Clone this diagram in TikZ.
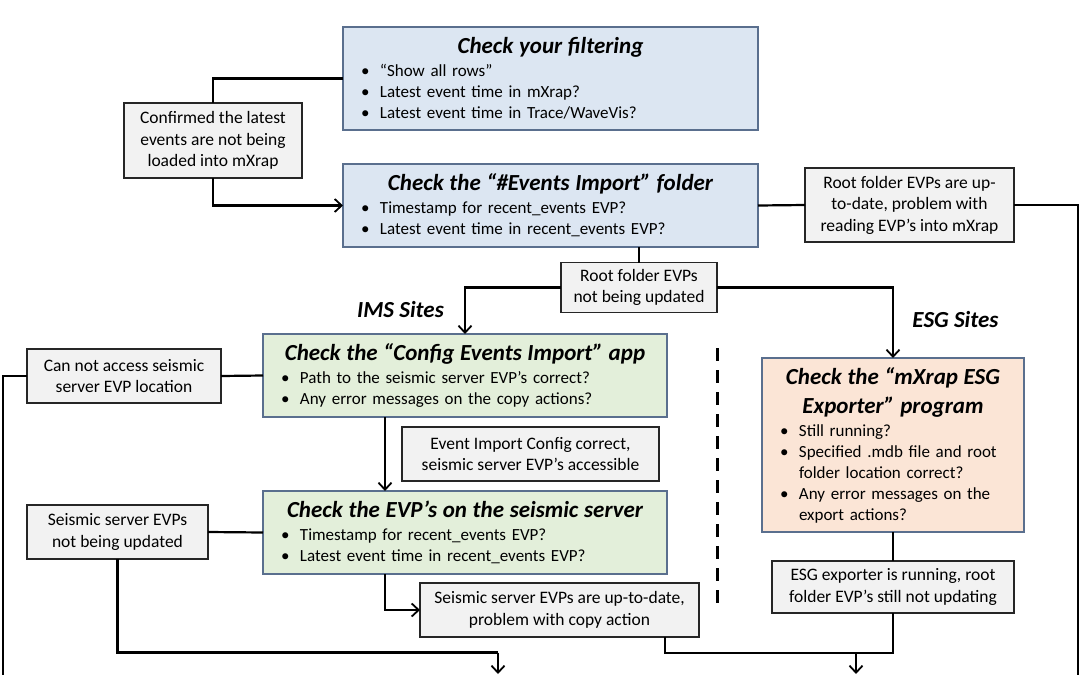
\documentclass[tikz,border=0pt]{standalone}
\usepackage{fontspec}
\setmainfont{Carlito}
\usetikzlibrary{arrows.meta,calc}
\definecolor{bluefill}{HTML}{DCE6F2}
\definecolor{greenfill}{HTML}{E3EFDA}
\definecolor{orangefill}{HTML}{FBE5D6}
\definecolor{grayfill}{HTML}{F2F2F2}
\definecolor{boxedge}{HTML}{5A6F8E}
\newcommand\ttl[1]{{\centering\fontsize{23}{29}\selectfont\bfseries\itshape #1\par}\vspace{2pt}}
\newcommand\bul[1]{\noindent\makebox[19pt][l]{\textbullet}#1\par}
\newcommand\cnt[1]{\noindent\hspace*{19pt}#1\par}
\begin{document}
\begin{tikzpicture}[x=1pt,y=-1pt,
  base/.style={draw, rectangle, inner sep=0pt, outer sep=0pt},
  checkbox/.style={base, draw=boxedge, line width=1.4pt, text width=#1-36pt, align=left,
     font=\fontsize{17}{21}\selectfont},
  bluebox/.style={checkbox=#1, fill=bluefill},
  greenbox/.style={checkbox=#1, fill=greenfill},
  orangebox/.style={checkbox=#1, fill=orangefill},
  graybox/.style={base, draw=black!85, line width=1.4pt, fill=grayfill, align=center,
     font=\fontsize{17.5}{21.5}\selectfont},
  sitelabel/.style={font=\fontsize{23}{27}\selectfont\bfseries\itshape},
  conn/.style={line width=2.2pt},
  arr/.style={conn, -{Straight Barb[length=7pt,width=13pt,line width=1.8pt]}},
]
\useasboundingbox (0,0) rectangle (1080,675);

% check boxes
\node[bluebox=415pt, minimum width=415pt, minimum height=103pt] (b1) at (550.5,78.5) {%
  \ttl{Check your filtering}
  \bul{“Show all rows”}
  \bul{Latest event time in mXrap?}
  \bul{Latest event time in Trace/WaveVis?}};
\node[bluebox=415pt, minimum width=415pt, minimum height=83pt] (b2) at (550.5,205.5) {%
  \ttl{Check the “\#Events Import” folder}
  \bul{Timestamp for recent\_events EVP?}
  \bul{Latest event time in recent\_events EVP?}};
\node[greenbox=404pt, minimum width=404pt, minimum height=83pt] (c1) at (465,375.5) {%
  \ttl{Check the “Config Events Import” app}
  \bul{Path to the seismic server EVP’s correct?}
  \bul{Any error messages on the copy actions?}};
\node[greenbox=404pt, minimum width=404pt, minimum height=83pt] (c2) at (465,532.5) {%
  \ttl{Check the EVP’s on the seismic server}
  \bul{Timestamp for recent\_events EVP?}
  \bul{Latest event time in recent\_events EVP?}};
\node[orangebox=262pt, minimum width=262pt, minimum height=174pt] (e1) at (893,445) {%
  \ttl{Check the “mXrap ESG\\ Exporter” program}
  \bul{Still running?}
  \bul{Specified .mdb file and root}
  \cnt{folder location correct?}
  \bul{Any error messages on the}
  \cnt{export actions?}};

% outcome boxes
\node[graybox, minimum width=178pt, minimum height=75pt] (g1) at (213,140.5)
  {Confirmed the latest\\events are not being\\loaded into mXrap};
\node[graybox, minimum width=209pt, minimum height=74pt] (g2) at (909.5,205)
  {Root folder EVPs are up-\\to-date, problem with\\reading EVP’s into mXrap};
\node[graybox, minimum width=156pt, minimum height=50pt] (g3) at (639,287.5)
  {Root folder EVPs\\not being updated};
\node[graybox, minimum width=194pt, minimum height=54pt] (g4) at (124,376)
  {Can not access seismic\\server EVP location};
\node[graybox, minimum width=257pt, minimum height=54pt] (g5) at (530.5,454)
  {Event Import Config correct,\\seismic server EVP’s accessible};
\node[graybox, minimum width=181pt, minimum height=54pt] (g6) at (117.5,532)
  {Seismic server EVPs\\not being updated};
\node[graybox, minimum width=279pt, minimum height=54pt] (g7) at (559.5,610)
  {Seismic server EVPs are up-to-date,\\problem with copy action};
\node[graybox, minimum width=242pt, minimum height=52pt] (g8) at (893,587)
  {ESG exporter is running, root\\folder EVP’s still not updating};

% labels
\node[sitelabel] (ims) at (400.5,310) {IMS Sites};
\node[sitelabel] (esg) at (955.5,320) {ESG Sites};

% helper coordinates
\coordinate (ax) at (385,0);
\coordinate (rEnd) at (1078,680);
\coordinate (lEnd) at (3,680);
\coordinate (m1) at (498,652.5);
\coordinate (m1end) at (498,674);
\coordinate (j1) at (665,653);
\coordinate (m2) at (856,653);
\coordinate (m2end) at (856,674);

% connectors
\draw[conn] (b1.west) -| (g1.north);
\draw[arr] (g1.south) |- (b2.west);
\draw[conn] (b2.east) -- (g2.west);
\draw[conn] (g2.east) -| (rEnd);
\draw[conn] (g3.north |- b2.south) -- (g3.north);
\draw[arr] (g3.west) -| (c1.north);
\draw[arr] (g3.east) -| (e1.north);
\draw[conn] (c1.west) -- (g4.east);
\draw[conn] (g4.west) -| (lEnd);
\draw[arr] (c1.south -| ax) -- (c2.north -| ax);
\draw[conn] (c2.west) -- (g6.east);
\draw[arr] (c2.south -| ax) |- (g7.west);
\draw[conn] (g6.south) |- (m1);
\draw[arr] (m1) -- (m1end);
\draw[conn] (e1.south) -- (g8.north);
\draw[conn] (j1 |- g7.south) -- (j1) -- (g8.south |- j1) -- (g8.south);
\draw[arr] (m2) -- (m2end);

% separator
\draw[line width=3pt, dash pattern=on 13pt off 9pt] (717,348) -- (717,606);
\end{tikzpicture}
\end{document}
